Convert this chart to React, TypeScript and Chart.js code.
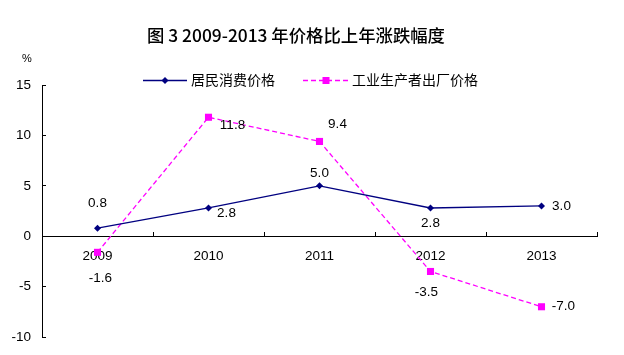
import React, { useEffect, useRef } from 'react';
import { Chart, registerables } from 'chart.js';

Chart.register(...registerables);

// ---- data ----
const categories = ['2009', '2010', '2011', '2012', '2013'];
const cpiValues = [0.8, 2.8, 5.0, 2.8, 3.0];
const ppiValues = [-1.6, 11.8, 9.4, -3.5, -7.0];
const seriesNames = ['居民消费价格', '工业生产者出厂价格'];
const yMin = -10;
const yMax = 15;
const yStep = 5;
const titleText = '图 3 2009-2013 年价格比上年涨跌幅度';
const unitText = '%';

// ---- style / label placement (pixel offsets from each point) ----
const cpiLabelOffsets = [[0, -25], [18, 5], [0, -13], [0, 15], [20, 0]];
const ppiLabelOffsets = [[3, 26], [24, 8], [18, -17], [-4, 21], [22, 0]];
const NAVY = '#000080';
const MAGENTA = '#FF00FF';
const LATIN_FONT = '"Liberation Sans", Arial, sans-serif';
const CJK_FONT = '"Noto Sans CJK SC", "Noto Sans", sans-serif';
const TITLE_WIDTH = 298;

const decorPlugin = {
  id: 'decor',
  afterDatasetsDraw(chart: any) {
    const ctx = chart.ctx as CanvasRenderingContext2D;
    ctx.save();
    ctx.font = `13.5px ${LATIN_FONT}`;
    ctx.fillStyle = '#000';
    ctx.textAlign = 'center';
    ctx.textBaseline = 'middle';
    const offsets = [cpiLabelOffsets, ppiLabelOffsets];
    chart.data.datasets.forEach((ds: any, di: number) => {
      const meta = chart.getDatasetMeta(di);
      meta.data.forEach((pt: any, i: number) => {
        const v = ds.data[i] as number;
        const o = offsets[di][i];
        ctx.fillText(v.toFixed(1), pt.x + o[0], pt.y + o[1]);
      });
    });
    ctx.restore();
  },
  afterDraw(chart: any) {
    const ctx = chart.ctx as CanvasRenderingContext2D;
    ctx.save();
    // title
    ctx.fillStyle = '#000';
    ctx.textAlign = 'center';
    ctx.textBaseline = 'middle';
    ctx.font = `500 16px ${CJK_FONT}`;
    const w16 = ctx.measureText(titleText).width;
    const fs = Math.min(18, (16 * TITLE_WIDTH) / w16);
    ctx.font = `500 ${fs.toFixed(2)}px ${CJK_FONT}`;
    ctx.fillText(titleText, 296, 35);
    // unit
    ctx.font = `11px ${LATIN_FONT}`;
    ctx.fillText(unitText, 27, 59);
    // legend
    const ly = 80.5;
    ctx.font = `14px ${CJK_FONT}`;
    ctx.textAlign = 'left';
    // series 1
    ctx.strokeStyle = NAVY;
    ctx.lineWidth = 1.3;
    ctx.beginPath();
    ctx.moveTo(143, ly);
    ctx.lineTo(187, ly);
    ctx.stroke();
    ctx.fillStyle = NAVY;
    ctx.beginPath();
    ctx.moveTo(165, ly - 3.5);
    ctx.lineTo(168.5, ly);
    ctx.lineTo(165, ly + 3.5);
    ctx.lineTo(161.5, ly);
    ctx.closePath();
    ctx.fill();
    ctx.fillStyle = '#000';
    ctx.fillText(seriesNames[0], 191, 80);
    // series 2
    ctx.strokeStyle = MAGENTA;
    ctx.setLineDash([5, 3]);
    ctx.beginPath();
    ctx.moveTo(303, ly);
    ctx.lineTo(348, ly);
    ctx.stroke();
    ctx.setLineDash([]);
    ctx.fillStyle = MAGENTA;
    ctx.fillRect(322.5, ly - 3.5, 7, 7);
    ctx.fillStyle = '#000';
    ctx.fillText(seriesNames[1], 352, 80);
    ctx.restore();
  },
};

export default function App() {
  const ref = useRef<HTMLCanvasElement | null>(null);
  useEffect(() => {
    if (!ref.current) return;
    const chart = new Chart(ref.current, {
      type: 'line',
      data: {
        labels: categories,
        datasets: [
          {
            label: seriesNames[0],
            data: cpiValues,
            borderColor: NAVY,
            backgroundColor: NAVY,
            borderWidth: 1.3,
            pointStyle: 'rectRot',
            pointRadius: 3.5,
            pointBorderWidth: 0,
            pointBackgroundColor: NAVY,
            tension: 0,
          },
          {
            label: seriesNames[1],
            data: ppiValues,
            borderColor: MAGENTA,
            backgroundColor: MAGENTA,
            borderWidth: 1.3,
            borderDash: [5, 3],
            pointStyle: 'rect',
            pointRadius: 5,
            pointBorderWidth: 0,
            pointBackgroundColor: MAGENTA,
            tension: 0,
          },
        ],
      },
      options: {
        animation: false,
        responsive: false,
        maintainAspectRatio: false,
        layout: { padding: { left: 0, right: 27, top: 85, bottom: 18 } },
        plugins: {
          legend: { display: false },
          title: { display: false },
          tooltip: { enabled: false },
        },
        scales: {
          x: {
            type: 'category',
            position: { y: 0 } as any,
            offset: true,
            grid: {
              display: true,
              drawOnChartArea: false,
              drawTicks: true,
              tickLength: -5,
              offset: true,
              color: '#000',
            },
            border: { display: true, color: '#000', width: 1 },
            ticks: {
              color: '#000',
              font: { size: 13.5, family: LATIN_FONT },
              padding: 17,
              maxRotation: 0,
              autoSkip: false,
            },
            afterFit: (s: any) => {
              s.height = 0;
              s.paddingLeft = 0;
              s.paddingRight = 0;
            },
          },
          y: {
            type: 'linear',
            position: 'left',
            min: yMin,
            max: yMax,
            ticks: {
              stepSize: yStep,
              color: '#000',
              font: { size: 13.5, family: LATIN_FONT },
              padding: 15,
            },
            grid: {
              display: true,
              drawOnChartArea: false,
              drawTicks: true,
              tickLength: -4,
              color: '#000',
            },
            border: { display: true, color: '#000', width: 1 },
            afterFit: (s: any) => {
              s.width = 42;
              s.paddingTop = 0;
              s.paddingBottom = 0;
            },
          },
        },
      },
      plugins: [decorPlugin],
    } as any);
    return () => chart.destroy();
  }, []);
  return (
    <div style={{ position: 'fixed', left: 0, top: 0, width: 624, height: 355, background: '#fff' }}>
      <canvas ref={ref} width={624} height={355} />
    </div>
  );
}
